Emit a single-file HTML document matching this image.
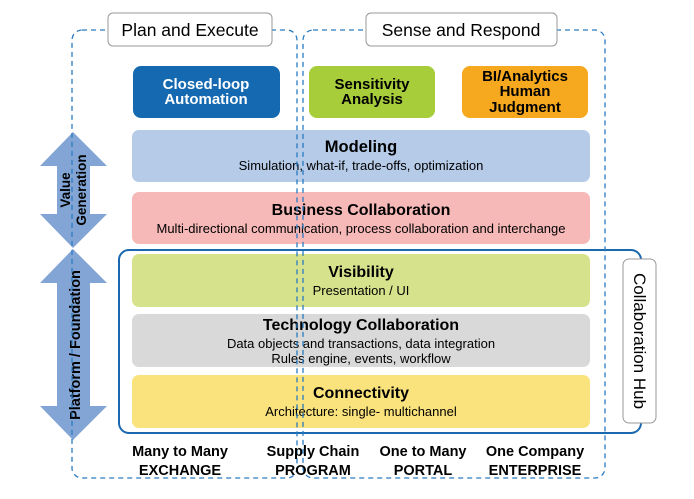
<!DOCTYPE html>
<html><head><style>
body{margin:0;background:#fff;}
svg{display:block;font-family:"Liberation Sans",Arial,sans-serif;}
.b{font-weight:bold;}
</style></head><body>
<svg width="694" height="499" viewBox="0 0 694 499">
<!-- arrows -->
<polygon points="73,132 107,166 90,166 90,214 107,214 73,248 40,214 57,214 57,166 40,166" fill="#82a5d6"/>
<polygon points="73,249 107,283 90,283 90,406 107,406 73,440 40,406 57,406 57,283 40,283" fill="#82a5d6"/>
<text transform="translate(70,190) rotate(-90)" text-anchor="middle" font-size="13.5" class="b">Value</text>
<text transform="translate(86,190) rotate(-90)" text-anchor="middle" font-size="13.5" class="b">Generation</text>
<text transform="translate(80,345) rotate(-90)" text-anchor="middle" font-size="14.5" class="b">Platform / Foundation</text>

<!-- top boxes -->
<rect x="133" y="66" width="147" height="52" rx="8" fill="#1569b0"/>
<text x="206" y="89" text-anchor="middle" font-size="15" fill="#fff" class="b">Closed-loop</text>
<text x="206" y="104" text-anchor="middle" font-size="15" fill="#fff" class="b">Automation</text>
<rect x="309" y="66" width="126" height="52" rx="8" fill="#a7cd3a"/>
<text x="372" y="89" text-anchor="middle" font-size="15" class="b">Sensitivity</text>
<text x="372" y="104" text-anchor="middle" font-size="15" class="b">Analysis</text>
<rect x="462" y="66" width="126" height="52" rx="8" fill="#f6a81f"/>
<text x="525" y="81" text-anchor="middle" font-size="15" class="b">BI/Analytics</text>
<text x="525" y="96" text-anchor="middle" font-size="15" class="b">Human</text>
<text x="525" y="112" text-anchor="middle" font-size="15" class="b">Judgment</text>

<rect x="132" y="130" width="458" height="52" rx="7" fill="#b5cbe8"/>
<text x="361" y="152" text-anchor="middle" font-size="16.5" class="b">Modeling</text>
<text x="361" y="170" text-anchor="middle" font-size="13">Simulation, what-if, trade-offs, optimization</text>
<rect x="132" y="192" width="458" height="52" rx="7" fill="#f6b9b8"/>
<text x="361" y="215" text-anchor="middle" font-size="16" class="b">Business Collaboration</text>
<text x="361" y="233" text-anchor="middle" font-size="13">Multi-directional communication, process collaboration and interchange</text>
<rect x="132" y="254" width="458" height="53" rx="7" fill="#d7e38c"/>
<text x="361" y="277" text-anchor="middle" font-size="16" class="b">Visibility</text>
<text x="361" y="295" text-anchor="middle" font-size="13">Presentation / UI</text>
<rect x="132" y="314" width="458" height="53" rx="7" fill="#d9d9d9"/>
<text x="361" y="330" text-anchor="middle" font-size="16" class="b">Technology Collaboration</text>
<text x="361" y="348" text-anchor="middle" font-size="13">Data objects and transactions, data integration</text>
<text x="361" y="363" text-anchor="middle" font-size="13">Rules engine, events, workflow</text>
<rect x="132" y="375" width="458" height="53" rx="7" fill="#fae37c"/>
<text x="361" y="398" text-anchor="middle" font-size="16" class="b">Connectivity</text>
<text x="361" y="416" text-anchor="middle" font-size="13">Architecture: single- multichannel</text>

<rect x="119" y="250" width="522" height="183" rx="10" fill="none" stroke="#1a68b0" stroke-width="2"/>
<rect x="623" y="259" width="33" height="164" rx="6" fill="#fff" stroke="#999" stroke-width="1"/>
<text transform="translate(634,341) rotate(90)" text-anchor="middle" font-size="17">Collaboration Hub</text>

<!-- dashed boxes -->
<rect x="72" y="30" width="225" height="448" rx="10" fill="none" stroke="#2a7ac0" stroke-width="1.3" stroke-dasharray="5,4"/>
<rect x="303" y="30" width="302" height="448" rx="10" fill="none" stroke="#2a7ac0" stroke-width="1.3" stroke-dasharray="5,4"/>
<rect x="108" y="13" width="164" height="33" rx="5" fill="#fff" stroke="#999"/>
<text x="190" y="36" text-anchor="middle" font-size="17.5">Plan and Execute</text>
<rect x="366" y="13" width="191" height="33" rx="5" fill="#fff" stroke="#999"/>
<text x="461" y="36" text-anchor="middle" font-size="17.5">Sense and Respond</text>

<!-- bottom labels -->
<g font-size="14.5" class="b" text-anchor="middle">
<text x="180" y="456">Many to Many</text><text x="180" y="475">EXCHANGE</text>
<text x="313" y="456">Supply Chain</text><text x="313" y="475">PROGRAM</text>
<text x="423" y="456">One to Many</text><text x="423" y="475">PORTAL</text>
<text x="535" y="456">One Company</text><text x="535" y="475">ENTERPRISE</text>
</g>
</svg>
</body></html>
